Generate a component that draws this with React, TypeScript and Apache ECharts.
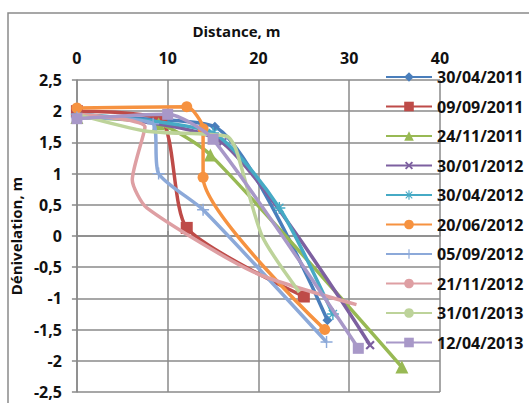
import React, { useEffect, useRef } from "react";
import * as echarts from "echarts";

const seriesNames = [
  "30/04/2011",
  "09/09/2011",
  "24/11/2011",
  "30/01/2012",
  "30/04/2012",
  "20/06/2012",
  "05/09/2012",
  "21/11/2012",
  "31/01/2013",
  "12/04/2013",
];

const s1: number[][] = [[0, 1.9], [15.2, 1.75], [27.6, -1.35]];
const s2: number[][] = [[0, 2.0], [9.3, 1.85], [12.1, 0.13], [25, -0.97]];
const s3: number[][] = [[0, 1.9], [9, 1.8], [14.7, 1.3], [35.8, -2.1]];
const s4: number[][] = [[0, 1.95], [16, 1.5], [32.3, -1.75]];
const s5: number[][] = [[0, 1.95], [15, 1.65], [22.3, 0.45], [28.2, -1.25]];
const s6: number[][] = [[0, 2.05], [12.1, 2.07], [13.9, 1.72], [13.9, 0.94], [27.3, -1.5]];
const s7: number[][] = [[0, 1.9], [8.4, 1.8], [9, 1.0], [13.9, 0.42], [27.5, -1.7]];
const s8: number[][] = [[0, 1.95], [7.5, 1.75], [6.1, 0.9], [7.7, 0.45], [19.5, -0.58], [30.8, -1.1]];
const s9: number[][] = [[0, 1.95], [7.7, 1.68], [16.5, 1.6], [17.5, 1.4], [20.4, 0], [24.5, -0.9]];
const s10: number[][] = [[0, 1.88], [10, 1.95], [15, 1.55], [31, -1.8]];

const allData = [s1, s2, s3, s4, s5, s6, s7, s8, s9, s10];

const colors = [
  "#4A7EBB",
  "#BE4B48",
  "#98B954",
  "#7D60A0",
  "#46AAC5",
  "#F69240",
  "#8CA9D9",
  "#DE9FA3",
  "#BDD39A",
  "#A898C8",
];

const PLUS = "path://M4,0H6V4H10V6H6V10H4V6H0V4H4Z";
const THIN_PLUS = "path://M4.4,0H5.6V4.4H10V5.6H5.6V10H4.4V5.6H0V4.4H4.4Z";
const ASTER =
  "path://M4.4,0H5.6V10H4.4Z M0,4.4H10V5.6H0Z M1.2,2L2,1.2L8.8,8L8,8.8Z M8,1.2L8.8,2L2,8.8L1.2,8Z";

const symbols = ["diamond", "rect", "triangle", PLUS, ASTER, "circle", THIN_PLUS, "none", "none", "rect"];
const symbolSizes = [10, 12, 13, 11, 12, 11, 12, 0, 0, 11];
const symbolRotates = [0, 0, 0, 45, 0, 0, 0, 0, 0, 0];

const FONT = "'Open Sans', 'Noto Sans', sans-serif";

export default function App() {
  const ref = useRef<HTMLDivElement>(null);
  useEffect(() => {
    if (!ref.current) return;
    const chart = echarts.init(ref.current, null, { renderer: "svg" });
    const gridColor = "#8a8a8a";
    chart.setOption({
      animation: false,
      backgroundColor: "#ffffff",
      color: colors,
      textStyle: { fontFamily: FONT },
      graphic: [
        {
          type: "rect",
          shape: { x: 8, y: 13, width: 540, height: 420 },
          style: { fill: "none", stroke: "#8a8a8a", lineWidth: 1.5 },
          z: -10,
        },
      ],
      grid: { left: 72, top: 80, right: 89, bottom: 11, containLabel: false },
      xAxis: {
        type: "value",
        position: "top",
        min: 0,
        max: 40,
        interval: 10,
        name: "Distance, m",
        nameLocation: "middle",
        nameGap: 42,
        nameTextStyle: {
          fontFamily: FONT,
          fontWeight: "bold",
          fontSize: 15,
          color: "#111",
          padding: [0, 44, 0, 0],
        },
        axisLine: { show: true, lineStyle: { color: gridColor, width: 1.5 } },
        axisTick: { show: true, inside: false, length: 5, lineStyle: { color: gridColor, width: 1.5 } },
        axisLabel: {
          fontFamily: FONT,
          fontWeight: "bold",
          fontSize: 16,
          color: "#111",
          margin: 14,
        },
        splitLine: { show: true, lineStyle: { color: gridColor, width: 1.5 } },
      },
      yAxis: {
        type: "value",
        min: -2.5,
        max: 2.5,
        interval: 0.5,
        name: "Dénivelation, m",
        nameLocation: "middle",
        nameGap: 31,
        nameRotate: 90,
        nameTextStyle: {
          fontFamily: FONT,
          fontWeight: "bold",
          fontSize: 15,
          color: "#111",
        },
        axisLine: { show: true, lineStyle: { color: gridColor, width: 1.5 } },
        axisTick: { show: true, inside: false, length: 5, lineStyle: { color: gridColor, width: 1.5 } },
        axisLabel: {
          fontFamily: FONT,
          fontWeight: "bold",
          fontSize: 16,
          color: "#111",
          margin: 15,
          formatter: (v: number) => String(v).replace(".", ","),
        },
        splitLine: { show: true, lineStyle: { color: gridColor, width: 1.5 } },
      },
      legend: {
        orient: "vertical",
        left: 380,
        top: 62,
        itemWidth: 46,
        itemHeight: 12,
        itemGap: 9.5,
        textStyle: {
          fontFamily: FONT,
          fontWeight: "bold",
          fontSize: 16,
          lineHeight: 20,
          color: "#111",
        },
        data: seriesNames,
      },
      series: allData.map((d, i) => ({
        name: seriesNames[i],
        type: "line",
        data: d,
        smooth: 0.22,
        symbol: symbols[i],
        symbolSize: symbolSizes[i],
        symbolRotate: symbolRotates[i],
        showSymbol: symbols[i] !== "none",
        lineStyle: { width: 3.5, color: colors[i] },
        itemStyle: { color: colors[i] },
        z: 2 + i,
      })),
    });
    return () => chart.dispose();
  }, []);
  return (
    <div
      ref={ref}
      style={{ position: "fixed", left: 0, top: 0, width: 529, height: 403 }}
    />
  );
}
